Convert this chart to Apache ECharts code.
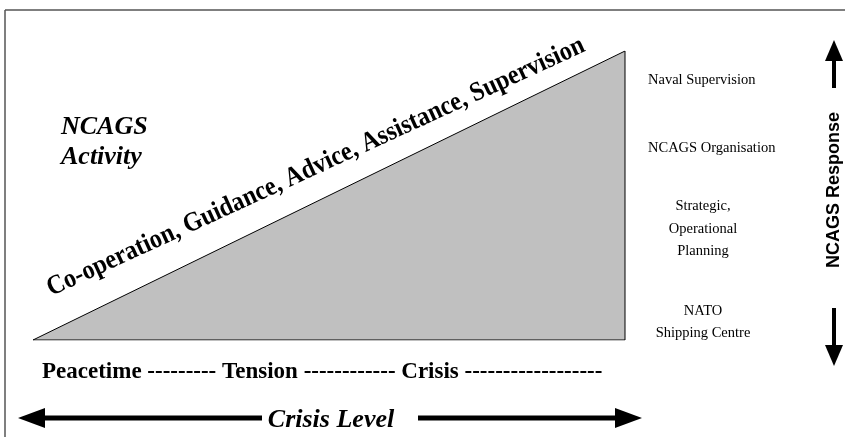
<!DOCTYPE html>
<html>
<head>
<meta charset="utf-8">
<script src="https://cdn.jsdelivr.net/npm/echarts@6/dist/echarts.min.js"></script>
<style>
html,body{margin:0;padding:0;background:#fff;}
#chart{width:845px;height:437px;}
</style>
</head>
<body>
<div id="chart"></div>
<script>
// data
const crisisLevel = [0, 1, 1, 0];
const activityLevel = [0, 1, 0, 0];
const activityText = 'Co-operation, Guidance, Advice, Assistance, Supervision';
const stages = ['Peacetime', 'Tension', 'Crisis'];
const stageDashes = [9, 12, 18];
const responseLabels = ['Naval Supervision', 'NCAGS Organisation', 'Strategic,\nOperational\nPlanning', 'NATO\nShipping Centre'];
const responseY = [80, 148, 229, 322];
const responseAlign = ['left', 'left', 'center', 'center'];

const serif = "'Liberation Serif','Times New Roman',serif";
const sans = "'Liberation Sans',Arial,sans-serif";

let chart = echarts.init(document.getElementById('chart'));

// bottom scale line: Peacetime ----- Tension ----- Crisis -----
let stageLine = stages.map((s, i) => s + ' ' + '-'.repeat(stageDashes[i])).join(' ');

function arrowH(x1, x2, y, dir){
    // dir -1 = head on the left, 1 = head on the right
    let tip = dir < 0 ? x1 : x2;
    let base = tip - dir * 27;
    return [
        {type:'line', shape:{x1: dir < 0 ? base : x1, y1:y, x2: dir < 0 ? x2 : base, y2:y}, style:{stroke:'#000', lineWidth:5}},
        {type:'polygon', shape:{points:[[tip,y],[base,y-10],[base,y+10]]}, style:{fill:'#000'}}
    ];
}
function arrowV(y1, y2, x, dir){
    let tip = dir < 0 ? y1 : y2;
    let base = tip - dir * 21;
    return [
        {type:'line', shape:{x1:x, y1: dir < 0 ? base : y1, x2:x, y2: dir < 0 ? y2 : base}, style:{stroke:'#000', lineWidth:4}},
        {type:'polygon', shape:{points:[[x,tip],[x-9,base],[x+9,base]]}, style:{fill:'#000'}}
    ];
}

let graphics = [
    {type:'line', shape:{x1:5, y1:10, x2:845, y2:10}, style:{stroke:'#555', lineWidth:1.5}},
    {type:'line', shape:{x1:5, y1:10, x2:5, y2:437}, style:{stroke:'#555', lineWidth:1.5}},
    {type:'text', x:54, y:302, rotation:0.43, scaleX:0.9, style:{text:activityText, font:'bold 27px ' + serif, fill:'#000', textAlign:'left', textVerticalAlign:'bottom'}},
    {type:'text', x:61, y:142, style:{text:'NCAGS\nActivity', font:'italic bold 26px ' + serif, lineHeight:30, fill:'#000', textAlign:'left', textVerticalAlign:'middle'}},
    {type:'text', x:42, y:372, style:{text:stageLine, font:'bold 23px ' + serif, fill:'#000', textAlign:'left', textVerticalAlign:'middle'}},
    {type:'text', x:331, y:420, style:{text:'Crisis Level', font:'italic bold 26px ' + serif, fill:'#000', textAlign:'center', textVerticalAlign:'middle'}},
    {type:'text', x:834, y:190, rotation:Math.PI/2, style:{text:'NCAGS Response', font:'bold 18px ' + sans, fill:'#000', textAlign:'center', textVerticalAlign:'middle'}}
];
graphics = graphics.concat(arrowH(18, 262, 418, -1), arrowH(418, 642, 418, 1));
graphics = graphics.concat(arrowV(40, 88, 834, -1), arrowV(308, 366, 834, 1));
responseLabels.forEach((t, i) => {
    graphics.push({type:'text', x: responseAlign[i] === 'left' ? 648 : 703, y: responseY[i],
        style:{text:t, font:'14.5px ' + serif, lineHeight:22.5, fill:'#000', textAlign:responseAlign[i], textVerticalAlign:'middle'}});
});

let option = {
    backgroundColor: '#fff',
    animation: false,
    grid: {left:33, right:220, top:51, bottom:97},
    xAxis: {type:'value', min:0, max:1, show:false},
    yAxis: {type:'value', min:0, max:1, show:false},
    series: [{
        type: 'line',
        data: crisisLevel.map((x, i) => [x, activityLevel[i]]),
        symbol: 'none',
        lineStyle: {color:'#000', width:1},
        areaStyle: {color:'#c0c0c0', opacity:1}
    }],
    graphic: graphics
};
chart.setOption(option);
</script>
</body>
</html>
